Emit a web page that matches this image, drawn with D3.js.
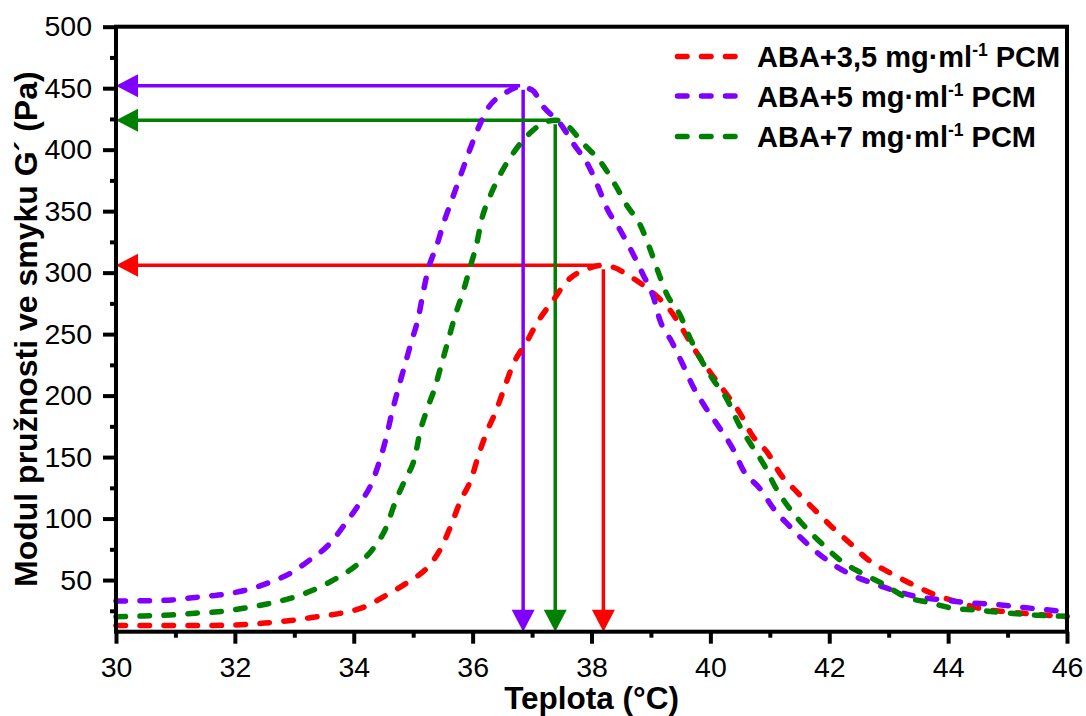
<!DOCTYPE html>
<html>
<head>
<meta charset="utf-8">
<script src="https://cdn.jsdelivr.net/npm/d3@7/dist/d3.min.js"></script>
<style>
  html, body { margin: 0; padding: 0; background: #fff; }
  svg { display: block; }
  text { font-family: "Liberation Sans", Arial, Helvetica, sans-serif; }
</style>
</head>
<body>
<svg id="chart" width="1086" height="716"></svg>
<script>
// ---- Data ----
const seriesNames = ["ABA+3,5 mg·ml", "ABA+5 mg·ml", "ABA+7 mg·ml"];
const seriesColors = ["#ff0000", "#8000ff", "#008000"];

const temp35 = [30.0,30.5,31.0,31.5,32.0,32.5,33.0,33.38,33.77,34.19,34.55,34.92,35.25,35.48,35.65,35.79,35.98,36.10,36.24,36.40,36.54,36.69,36.91,37.08,37.36,37.58,37.95,38.2,38.34,38.70,39.04,39.32,39.54,39.74,39.99,40.24,40.50,40.70,40.97,41.17,41.45,41.73,42.04,42.35,42.66,43.02,43.39,43.75,44.14,44.53,44.98,45.43,46.0];
const g35 = [13,13,13,13,13.5,15,17.5,20.2,22.9,28.3,37.8,48.6,60.8,77.1,96.1,113.7,132.7,151.7,170.6,188.3,207.2,226.2,243.8,258.8,277.8,292.6,303.5,306,304.8,295.4,283.2,269.6,253.3,237.1,219.4,203.2,185.6,167.9,153.0,136.8,121.9,108.3,93.4,79.9,66.3,55.9,46.7,38.6,32.4,27.0,24.2,22.3,20.3];

const temp5 = [30.0,30.5,30.94,31.33,31.72,32.14,32.54,32.93,33.26,33.6,33.82,34.08,34.30,34.44,34.55,34.64,34.75,34.86,34.97,35.09,35.17,35.25,35.40,35.51,35.65,35.79,35.93,36.07,36.24,36.54,36.80,37.0,37.19,37.47,37.70,37.95,38.11,38.26,38.48,38.68,38.87,39.04,39.15,39.35,39.54,39.71,39.91,40.16,40.39,40.55,40.83,41.06,41.34,41.62,41.96,42.32,42.71,43.10,43.49,43.92,44.33,44.76,45.15,45.57,46.0];
const g5 = [33,33.2,33.8,35.9,37.8,41.3,47.3,55.5,66.3,79.8,93.4,111.1,128.6,147.6,166.6,185.6,205.9,224.9,243.8,264.1,284.5,302.1,322.5,340.1,359.1,378.0,397.0,414.6,432.3,445.8,451,448.5,434.9,421.4,404.5,387,369.9,352.3,334.7,317.0,298.1,280.4,261.5,243.8,224.9,207.2,191.0,173.3,155.7,139.5,124.6,108.3,93.4,79.9,66.3,55.5,47.8,41.3,36.4,33.8,31.6,30.3,28.3,26.2,24.2];

const temp7 = [30.0,30.46,30.91,31.33,31.72,32.14,32.54,32.93,33.32,33.71,34.05,34.33,34.55,34.69,34.86,35.03,35.11,35.23,35.37,35.48,35.59,35.70,35.84,35.96,36.07,36.15,36.29,36.46,36.68,36.96,37.24,37.4,37.58,37.86,38.17,38.40,38.59,38.82,38.98,39.12,39.26,39.49,39.66,39.83,40.05,40.28,40.47,40.67,40.92,41.09,41.31,41.59,41.87,42.18,42.55,42.91,43.28,43.69,44.09,44.48,44.84,45.09,45.48,46.0];
const g7 = [20.2,20.8,21.6,23.0,24.2,27.0,30.5,35.1,41.9,51.4,62.2,75.8,93.4,112.4,131.3,150.3,169.3,188.3,207.2,226.2,245.2,264.1,284.5,304.8,323.8,342.8,361.8,379.4,397.0,413.3,422.7,424,420.1,405.1,388.9,371.3,355.0,338.7,319.8,300.8,283.2,265.5,246.6,230.3,212.7,197,177.5,161.2,142.2,125.9,109.7,93.4,79.9,66.3,55.5,46.7,36.4,31.6,27.0,25.6,23.8,22.8,21.4,20.5];

// peak markers (arrows): temperature and modulus at maximum
const peakTemp = [38.2, 36.85, 37.39];
const peakG = [306, 452, 424];

const xTicks = [30,32,34,36,38,40,42,44,46];
const xMinorTicks = [31,33,35,37,39,41,43,45];
const yTicks = [50,100,150,200,250,300,350,400,450,500];
const yMinorTicks = [25,75,125,175,225,275,325,375,425,475];

// ---- Layout ----
const svg = d3.select("#chart");
const W = 1086, H = 716;
const mLeft = 116, mRight = 1067, mTop = 26.7, mBottom = 631.7;

svg.append("rect").attr("width", W).attr("height", H).attr("fill", "#fff");

const x = d3.scaleLinear().domain([30, 46]).range([mLeft, mRight]);
const y = d3.scaleLinear().domain([8, 500]).range([mBottom, mTop]);

// ---- Axes ----
const axStroke = 4;
const gx = svg.append("g").attr("transform", `translate(0,${mBottom})`)
  .call(d3.axisBottom(x).tickValues(xTicks).tickSize(12).tickSizeOuter(0).tickPadding(13).tickFormat(d3.format("d")));
const gxm = svg.append("g").attr("transform", `translate(0,${mBottom})`)
  .call(d3.axisBottom(x).tickValues(xMinorTicks).tickSize(6).tickSizeOuter(0).tickFormat(""));
const gy = svg.append("g").attr("transform", `translate(${mLeft},0)`)
  .call(d3.axisLeft(y).tickValues(yTicks).tickSize(13).tickSizeOuter(0).tickPadding(11).tickFormat(d3.format("d")));
const gym = svg.append("g").attr("transform", `translate(${mLeft},0)`)
  .call(d3.axisLeft(y).tickValues(yMinorTicks).tickSize(6).tickSizeOuter(0).tickFormat(""));

[gx, gxm, gy, gym].forEach(g => {
  g.select(".domain").remove();
  g.selectAll(".tick line").attr("stroke", "#000").attr("stroke-width", axStroke);
  g.selectAll(".tick text").attr("fill", "#000").style("font-size", "28.5px")
    .style("font-family", '"Liberation Sans", Arial, sans-serif');
});

// ---- Curves ----
const series = [
  {t: temp35, g: g35},
  {t: temp5, g: g5},
  {t: temp7, g: g7}
];
const line = d3.line().x(d => x(d[0])).y(d => y(d[1])).curve(d3.curveMonotoneX);
const dash = "9.5,14.5";
const curveW = 5.5;

// ---- Arrows ----
const arrowW = 3.5, headL = 22, headH = 11.5;
peakTemp.forEach((t, i) => {
  const c = seriesColors[i];
  const px = x(t), py = y(peakG[i]);
  const g = svg.append("g");
  g.append("line").attr("x1", mLeft + headL - 2).attr("x2", px - 3)
    .attr("y1", py).attr("y2", py).attr("stroke", c).attr("stroke-width", arrowW);
  g.append("path")
    .attr("d", `M${mLeft},${py} L${mLeft + headL},${py - headH} L${mLeft + headL},${py + headH} Z`)
    .attr("fill", c);
  g.append("line").attr("x1", px).attr("x2", px)
    .attr("y1", py + 4).attr("y2", mBottom - headL + 2).attr("stroke", c).attr("stroke-width", arrowW);
  g.append("path")
    .attr("d", `M${px},${mBottom} L${px - headH},${mBottom - headL} L${px + headH},${mBottom - headL} Z`)
    .attr("fill", c);
});

series.forEach((s, i) => {
  const pts = s.t.map((t, k) => [t, s.g[k]]);
  svg.append("path").datum(pts)
    .attr("d", line)
    .attr("fill", "none")
    .attr("stroke", seriesColors[i])
    .attr("stroke-width", curveW)
    .attr("stroke-dasharray", dash)
    .attr("stroke-linecap", "round");
});

// ---- Frame ----
svg.append("rect").attr("x", mLeft).attr("y", mTop)
  .attr("width", mRight - mLeft).attr("height", mBottom - mTop)
  .attr("fill", "none").attr("stroke", "#000").attr("stroke-width", axStroke);

// ---- Legend ----
const legY = [56.5, 96, 136.5];
seriesNames.forEach((name, i) => {
  svg.append("line")
    .attr("x1", 677.5).attr("x2", 735).attr("y1", legY[i]).attr("y2", legY[i])
    .attr("stroke", seriesColors[i]).attr("stroke-width", curveW)
    .attr("stroke-dasharray", dash).attr("stroke-linecap", "round");
  const tx = svg.append("text").attr("x", 757).attr("y", legY[i] + 10.5)
    .attr("fill", "#000").style("font-size", "29px").style("font-weight", "bold");
  tx.append("tspan").text(name);
  tx.append("tspan").attr("dy", -11).style("font-size", "17.5px").text("-1");
  tx.append("tspan").attr("dy", 11).text(" PCM");
});

// ---- Axis titles ----
svg.append("text").attr("x", (mLeft + mRight) / 2).attr("y", 709)
  .attr("text-anchor", "middle").attr("fill", "#000")
  .style("font-size", "31.5px").style("font-weight", "bold")
  .text("Teplota (°C)");

svg.append("text")
  .attr("transform", `translate(37,${(mTop + mBottom) / 2}) rotate(-90)`)
  .attr("text-anchor", "middle").attr("fill", "#000")
  .style("font-size", "32px").style("font-weight", "bold")
  .text("Modul pružnosti ve smyku G´ (Pa)");
</script>
</body>
</html>
